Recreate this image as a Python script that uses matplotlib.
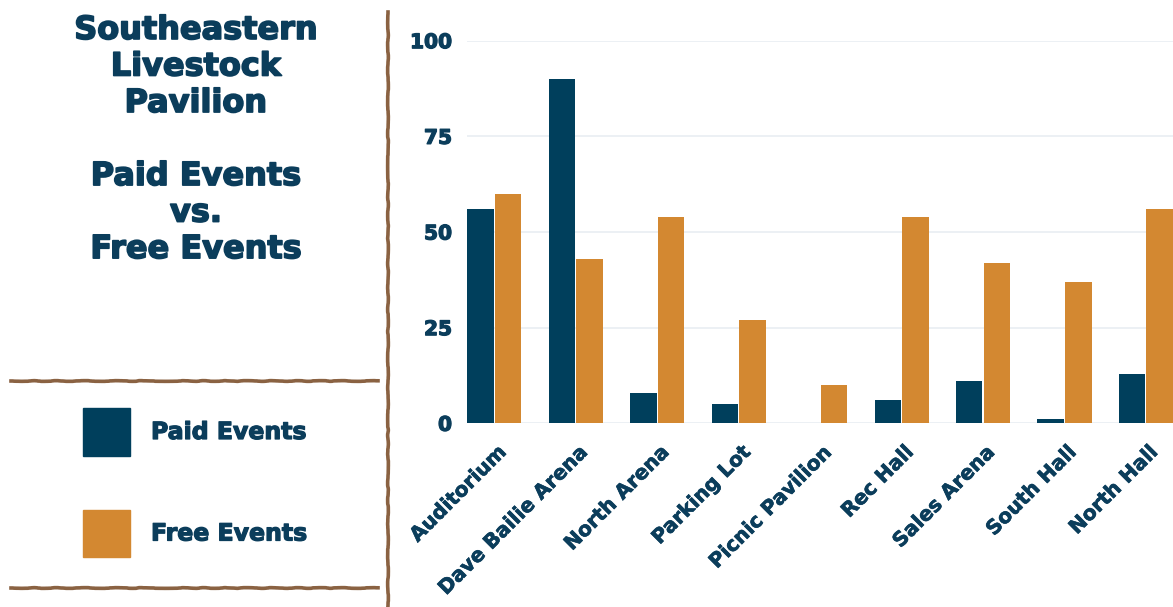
import numpy as np
import matplotlib
matplotlib.use('Agg')
import matplotlib.pyplot as plt
import matplotlib.transforms as mtransforms
import matplotlib.patheffects as pe
from matplotlib.patches import Rectangle
from matplotlib.lines import Line2D

# Dados
venues = ['Auditorium', 'Dave Bailie Arena', 'North Arena', 'Parking Lot',
          'Picnic Pavilion', 'Rec Hall', 'Sales Arena', 'South Hall', 'North Hall']
paid_events = [56, 90, 8, 5, 0, 6, 11, 1, 13]
free_events = [60, 43, 54, 27, 10, 54, 42, 37, 56]
y_ticks = [0, 25, 50, 75, 100]

NAVY = '#003f5c'
ORANGE = '#d38831'
BROWN = '#8a6242'
TEXT = '#0b3d5b'
heavy = [pe.withStroke(linewidth=0.9, foreground=TEXT)]
light = [pe.withStroke(linewidth=0.45, foreground=TEXT)]

plt.rcParams['font.family'] = ['DejaVu Sans']
plt.rcParams['font.weight'] = 'bold'

W, H = 1173, 607
fig = plt.figure(figsize=(W / 100, H / 100), dpi=100)

# Área do gráfico de barras
ax = fig.add_axes([467.3 / W, 1 - 423.3 / H, 1 - 467.3 / W, (423.3 - 40.7) / H])
x = np.arange(len(venues))
bw = 0.325
ax.bar(x - 0.17, paid_events, width=bw, color=NAVY, zorder=3)
ax.bar(x + 0.17, free_events, width=bw, color=ORANGE, zorder=3)
ax.set_xlim(-0.333, len(venues) - 1 + 0.333)
ax.set_ylim(0, 100)
ax.set_yticks(y_ticks)
ax.yaxis.grid(True, color='#eaeff3', linewidth=1.3, zorder=0)
ax.set_axisbelow(True)
for s in ax.spines.values():
    s.set_visible(False)
ax.tick_params(axis='both', length=0, labelcolor=TEXT, labelsize=14.5)
ax.tick_params(axis='y', pad=11)
ax.set_xticks(x)
ax.set_xticklabels(venues, rotation=45, ha='right', va='top')
offset = mtransforms.ScaledTranslation(16 / 100, -14 / 100, fig.dpi_scale_trans)
for lbl in ax.get_xticklabels():
    lbl.set_transform(lbl.get_transform() + offset)
    lbl.set_path_effects(light)
for lbl in ax.get_yticklabels():
    lbl.set_path_effects(heavy)

# Título à esquerda
fig.text(196 / W, 1 - 15 / H,
         'Southeastern\nLivestock\nPavilion\n\nPaid Events\nvs.\nFree Events',
         ha='center', va='top', fontsize=23, color=TEXT, fontweight='bold',
         linespacing=1.23, path_effects=[pe.withStroke(linewidth=1.2, foreground=TEXT)])

# Legenda manual
for (y0, y1), label, col in [((408, 456), 'Paid Events', NAVY),
                             ((510, 557), 'Free Events', ORANGE)]:
    fig.patches.append(Rectangle((83 / W, 1 - y1 / H), 47 / W, (y1 - y0) / H,
                                 transform=fig.transFigure, color=col))
    fig.text(151 / W, 1 - (y0 + y1) / 2 / H, label, ha='left', va='center',
             fontsize=17, color=TEXT, fontweight='bold', path_effects=heavy)

# Linhas "desenhadas à mão"
def sketch_line(xs, ys):
    ln = Line2D([v / W for v in xs], [1 - v / H for v in ys],
                transform=fig.transFigure, color=BROWN, linewidth=2.6)
    ln.set_sketch_params(scale=0.35, length=60, randomness=10)
    fig.lines.append(ln)

sketch_line([11, 378], [380.7, 380.7])
sketch_line([11, 378], [587.7, 587.7])
sketch_line([388, 388], [12, 607])

fig.savefig('out.png', dpi=100)
